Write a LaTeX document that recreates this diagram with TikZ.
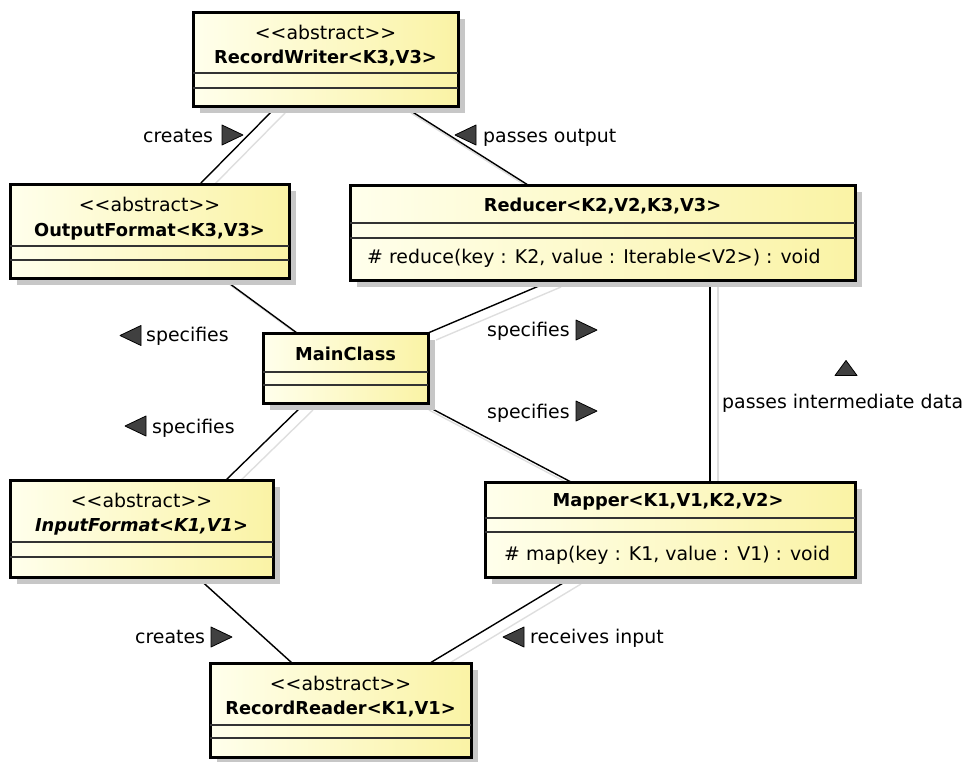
\documentclass[tikz,border=0pt]{standalone}
\usepackage{fontspec}
\setmainfont{DejaVu Sans}[Ligatures=TeXOff]
\usetikzlibrary{shadows}
\pgfdeclarelayer{bg}
\pgfsetlayers{bg,main}

\definecolor{boxleft}{RGB}{255,255,236}
\definecolor{boxright}{RGB}{250,243,165}

\tikzset{
  cls/.style={rectangle, draw=black, line width=3pt, inner sep=0pt, outer sep=0pt,
    left color=boxleft, right color=boxright,
    drop shadow={shadow xshift=7pt, shadow yshift=-7pt, fill=black!22, opacity=1}},
  comp/.style={draw=black!80, line width=1.3pt},
  txt/.style={inner sep=0pt, anchor=base, font=\fontsize{18.9}{22}\selectfont},
  bname/.style={inner sep=0pt, anchor=base, font=\fontsize{17.8}{22}\selectfont\bfseries},
  lbl/.style={inner sep=0pt, anchor=base west, font=\fontsize{18.9}{22}\selectfont},
  assoc/.style={draw=black, line width=1.4pt},
  assocshadow/.style={draw=black!13, line width=1.4pt},
  tri/.style={fill=black!75, draw=black, line width=0.8pt, line join=round},
}

% class box: name, left, top, right, bottom
\newcommand\classbox[5]{%
  \pgfmathsetmacro\cbw{#4-#2}\pgfmathsetmacro\cbh{#5-#3}%
  \pgfmathsetmacro\cbx{(#2+#4)/2}\pgfmathsetmacro\cby{(#3+#5)/2}%
  \node[cls, minimum width=\cbw pt, minimum height=\cbh pt] (#1) at (\cbx,\cby) {};%
}
% horizontal compartment separator, offset from the top of a box
\newcommand\compline[2]{%
  \draw[comp] ([yshift=-#2pt]#1.north west) -- ([yshift=-#2pt]#1.north east);%
}
% association between two named end points, with its faint shadow
\newcommand\assocline[2]{%
  \begin{pgfonlayer}{bg}
    \draw[assocshadow] ([shift={(8,7)}]#1) -- ([shift={(8,7)}]#2);
    \draw[assoc] (#1) -- (#2);
  \end{pgfonlayer}%
}
% direction markers for association labels
\newcommand\rtri[1]{\filldraw[tri, shift={(#1)}] (-10,-10) -- (11,0) -- (-10,10) -- cycle;}
\newcommand\ltri[1]{\filldraw[tri, shift={(#1)}] (10,-10) -- (-11,0) -- (10,10) -- cycle;}
\newcommand\utri[1]{\filldraw[tri, shift={(#1)}] (-11,7.5) -- (0,-7.5) -- (11,7.5) -- cycle;}

\begin{document}
\begin{tikzpicture}[x=1pt, y=-1pt]
\useasboundingbox (0,0) rectangle (973,761);

% ---- classes ----
\classbox{rw}{193}{12}{458}{106}
\compline{rw}{61}\compline{rw}{76}
\node[txt]   (rw-st) at (325.5,39.5) {<<abstract>>};
\node[bname] (rw-nm) at (325.5,63.5) {RecordWriter<K3,V3>};

\classbox{of}{10}{184}{289}{278}
\compline{of}{62}\compline{of}{76}
\node[txt]   (of-st) at (149.5,211) {<<abstract>>};
\node[bname] (of-nm) at (149.5,236) {OutputFormat<K3,V3>};

\classbox{red}{350}{185}{855}{280}
\compline{red}{38}\compline{red}{53}
\node[bname] (red-nm) at (602.5,211.5) {Reducer<K2,V2,K3,V3>};
\node[txt, anchor=base west] (red-op) at (367,263) {\# reduce(key : K2, value : Iterable<V2>) : void};

\classbox{mc}{263}{333}{428}{403}
\compline{mc}{39}\compline{mc}{52}
\node[bname] (mc-nm) at (345.5,360.5) {MainClass};

\classbox{inf}{10}{480}{273}{577}
\compline{inf}{62}\compline{inf}{77}
\node[txt]   (inf-st) at (141.5,507.5) {<<abstract>>};
\node[bname, font=\fontsize{17.8}{22}\selectfont\bfseries\itshape] (inf-nm) at (141.5,531) {InputFormat<K1,V1>};

\classbox{map}{485}{482}{855}{577}
\compline{map}{36}\compline{map}{50}
\node[bname] (map-nm) at (668,506.5) {Mapper<K1,V1,K2,V2>};
\node[txt, anchor=base west] (map-op) at (504,560) {\# map(key : K1, value : V1) : void};

\classbox{rr}{210}{663}{471}{757}
\compline{rr}{62}\compline{rr}{75}
\node[txt]   (rr-st) at (340.5,690) {<<abstract>>};
\node[bname] (rr-nm) at (340.5,714) {RecordReader<K1,V1>};

% ---- association end points on the class borders ----
\coordinate (rw-of)  at ([xshift=84pt]rw.south west);
\coordinate (of-rw)  at ([xshift=190pt]of.north west);
\coordinate (rw-red) at ([xshift=210pt]rw.south west);
\coordinate (red-rw) at ([xshift=178pt]red.north west);
\coordinate (of-mc)  at ([xshift=212pt]of.south west);
\coordinate (mc-of)  at ([xshift=34pt]mc.north west);
\coordinate (red-mc) at ([xshift=203pt]red.south west);
\coordinate (mc-red) at (mc.north east);
\coordinate (red-map) at ([xshift=360pt]red.south west);
\coordinate (map-red) at ([xshift=225pt]map.north west);
\coordinate (mc-inf) at ([xshift=42pt]mc.south west);
\coordinate (inf-mc) at ([xshift=216pt]inf.north west);
\coordinate (mc-map) at ([xshift=158pt]mc.south west);
\coordinate (map-mc) at ([xshift=86pt]map.north west);
\coordinate (inf-rr) at ([xshift=187pt]inf.south west);
\coordinate (rr-inf) at ([xshift=82pt]rr.north west);
\coordinate (map-rr) at ([xshift=88pt]map.south west);
\coordinate (rr-map) at ([xshift=220pt]rr.north west);

% ---- associations ----
\assocline{rw-of}{of-rw}
\assocline{rw-red}{red-rw}
\assocline{of-mc}{mc-of}
\assocline{red-mc}{mc-red}
\assocline{red-map}{map-red}
\assocline{mc-inf}{inf-mc}
\assocline{mc-map}{map-mc}
\assocline{inf-rr}{rr-inf}
\assocline{map-rr}{rr-map}

% ---- association labels ----
\node[lbl] (l-cr1) at (143,142) {creates};
\rtri{232,135}
\ltri{466,135}
\node[lbl] (l-po) at (483,142) {passes output};

\ltri{131,335.5}
\node[lbl] (l-sp1) at (146,341.5) {specifies};
\node[lbl] (l-sp2) at (487,336.5) {specifies};
\rtri{586,330}

\node[lbl] (l-sp3) at (487,418) {specifies};
\rtri{586,411}
\ltri{136,426}
\node[lbl] (l-sp4) at (152,433) {specifies};

\utri{846,368}
\node[lbl] (l-pid) at (722,408) {passes intermediate data};

\node[lbl] (l-cr2) at (135,643) {creates};
\rtri{221,637}
\ltri{514,637}
\node[lbl] (l-ri) at (530,643) {receives input};
\end{tikzpicture}
\end{document}
